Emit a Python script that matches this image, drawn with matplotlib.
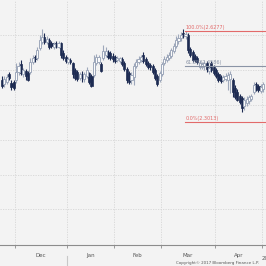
import matplotlib
matplotlib.use("Agg")
import matplotlib.pyplot as plt
import numpy as np

# daily OHLC (yield), one candle per trading day, late Nov 2016 .. end Apr 2017
opens = [2.452, 2.438, 2.445, 2.474, 2.441, 2.445, 2.452, 2.481, 2.509, 2.474,
         2.484, 2.477, 2.481, 2.517, 2.535, 2.531, 2.567, 2.588, 2.606, 2.588,
         2.596, 2.585, 2.570, 2.585, 2.570, 2.585, 2.549, 2.535, 2.517, 2.524,
         2.513, 2.488, 2.481, 2.459, 2.474, 2.456, 2.466, 2.477, 2.466, 2.470,
         2.513, 2.517, 2.509, 2.531, 2.542, 2.553, 2.549, 2.538, 2.535, 2.524,
         2.520, 2.527, 2.513, 2.492, 2.477, 2.452, 2.463, 2.502, 2.517, 2.524,
         2.542, 2.527, 2.513, 2.506, 2.502, 2.488, 2.466, 2.452, 2.474, 2.513,
         2.524, 2.531, 2.538, 2.556, 2.574, 2.592, 2.603, 2.621, 2.610, 2.613,
         2.563, 2.553, 2.538, 2.531, 2.499, 2.499, 2.502, 2.513, 2.484, 2.513,
         2.499, 2.488, 2.474, 2.463, 2.452, 2.456, 2.452, 2.456, 2.452, 2.423,
         2.409, 2.395, 2.387, 2.359, 2.370, 2.377, 2.384, 2.409, 2.438, 2.431,
         2.413, 2.420]
highs = [2.466, 2.466, 2.474, 2.481, 2.452, 2.452, 2.513, 2.517, 2.524, 2.495,
         2.492, 2.484, 2.531, 2.542, 2.542, 2.570, 2.613, 2.635, 2.621, 2.610,
         2.603, 2.592, 2.588, 2.592, 2.592, 2.588, 2.560, 2.542, 2.535, 2.531,
         2.517, 2.495, 2.488, 2.481, 2.484, 2.481, 2.499, 2.481, 2.474, 2.542,
         2.545, 2.542, 2.517, 2.578, 2.570, 2.560, 2.556, 2.549, 2.542, 2.538,
         2.535, 2.535, 2.520, 2.499, 2.484, 2.481, 2.513, 2.527, 2.538, 2.542,
         2.553, 2.535, 2.520, 2.513, 2.509, 2.495, 2.474, 2.484, 2.517, 2.538,
         2.545, 2.553, 2.567, 2.585, 2.610, 2.617, 2.624, 2.635, 2.628, 2.621,
         2.570, 2.560, 2.545, 2.538, 2.524, 2.517, 2.520, 2.520, 2.502, 2.520,
         2.506, 2.495, 2.481, 2.470, 2.470, 2.477, 2.481, 2.484, 2.459, 2.434,
         2.420, 2.402, 2.395, 2.391, 2.395, 2.398, 2.402, 2.445, 2.445, 2.438,
         2.438, 2.445]
lows = [2.423, 2.427, 2.438, 2.452, 2.416, 2.416, 2.441, 2.470, 2.470, 2.463,
        2.452, 2.448, 2.474, 2.509, 2.517, 2.524, 2.560, 2.581, 2.581, 2.581,
        2.563, 2.567, 2.563, 2.567, 2.567, 2.531, 2.524, 2.513, 2.509, 2.509,
        2.459, 2.452, 2.448, 2.452, 2.445, 2.445, 2.459, 2.438, 2.427, 2.463,
        2.506, 2.509, 2.481, 2.524, 2.535, 2.527, 2.524, 2.517, 2.513, 2.517,
        2.513, 2.502, 2.484, 2.441, 2.438, 2.438, 2.434, 2.495, 2.509, 2.517,
        2.513, 2.502, 2.492, 2.488, 2.474, 2.452, 2.431, 2.445, 2.466, 2.506,
        2.517, 2.524, 2.531, 2.549, 2.567, 2.581, 2.592, 2.603, 2.599, 2.549,
        2.535, 2.517, 2.517, 2.509, 2.492, 2.492, 2.488, 2.481, 2.474, 2.481,
        2.470, 2.459, 2.445, 2.441, 2.445, 2.448, 2.416, 2.405, 2.391, 2.384,
        2.377, 2.366, 2.337, 2.344, 2.359, 2.366, 2.377, 2.402, 2.413, 2.409,
        2.405, 2.409]
closes = [2.431, 2.456, 2.463, 2.459, 2.427, 2.423, 2.481, 2.502, 2.477, 2.488,
          2.466, 2.452, 2.517, 2.531, 2.527, 2.560, 2.596, 2.606, 2.588, 2.599,
          2.570, 2.574, 2.581, 2.574, 2.585, 2.542, 2.531, 2.520, 2.527, 2.517,
          2.474, 2.459, 2.456, 2.474, 2.459, 2.474, 2.488, 2.445, 2.431, 2.517,
          2.535, 2.535, 2.484, 2.556, 2.556, 2.535, 2.531, 2.527, 2.520, 2.531,
          2.531, 2.509, 2.492, 2.452, 2.445, 2.470, 2.502, 2.517, 2.527, 2.535,
          2.520, 2.509, 2.499, 2.499, 2.481, 2.459, 2.438, 2.477, 2.509, 2.527,
          2.535, 2.542, 2.560, 2.574, 2.596, 2.603, 2.613, 2.610, 2.617, 2.560,
          2.542, 2.524, 2.524, 2.517, 2.513, 2.509, 2.513, 2.492, 2.495, 2.488,
          2.477, 2.466, 2.452, 2.448, 2.463, 2.466, 2.470, 2.474, 2.409, 2.391,
          2.380, 2.373, 2.352, 2.380, 2.384, 2.391, 2.395, 2.434, 2.420, 2.416,
          2.427, 2.438]

# month boundaries / labels (trading-day index)
month_starts = [5.5, 27.5, 47.5, 67.5, 90.5, 110.5]
month_labels = ["Dec", "Jan", "Feb", "Mar", "Apr"]
month_centers = [16.5, 37.5, 57.5, 79.0, 100.5]
grid_levels = [2.6125, 2.4875, 2.3625, 2.2375, 2.1125, 1.9875]

# fibonacci retracement levels
fib_start = 77.6
fib_levels = [2.6277, 2.5022, 2.3013]
fib_labels = ["100.0%(2.6277)", "61.8%(2.4586)", "0.0%(2.3013)"]
fib_colors = ["#e26a6a", "#8a94a6", "#e26a6a"]

bg = "#f3f3f3"
dark = "#1d2b52"
light_edge = "#9ea8bb"

fig = plt.figure(figsize=(2.66, 2.66), dpi=100, facecolor=bg)
ax = fig.add_axes([0, 21 / 266, 1, 245 / 266], facecolor=bg)

x = np.arange(len(opens))
o = np.array(opens)
c = np.array(closes)
down = c < o

for xi, oi, hi, li, ci, d in zip(x, opens, highs, lows, closes, down):
    col = dark if d else light_edge
    ax.vlines(xi, li, hi, color=col, linewidth=0.8, zorder=3)
bottoms = np.minimum(o, c)
heights = np.maximum(np.abs(c - o), 0.003)
ax.bar(x[down], heights[down], bottom=bottoms[down], width=0.9,
       color=dark, edgecolor=dark, linewidth=0.5, zorder=4)
ax.bar(x[~down], heights[~down], bottom=bottoms[~down], width=0.9,
       color="#fbfbfb", edgecolor=light_edge, linewidth=0.7, zorder=4)

for lvl in grid_levels:
    ax.axhline(lvl, color="#d6d6d6", linestyle=(0, (1.5, 1.5)), linewidth=0.6, zorder=1)
for ms in month_starts:
    ax.axvline(ms, color="#d6d6d6", linestyle=(0, (1.5, 1.5)), linewidth=0.6, zorder=1)

xmax = 112.2
for lvl, lab, col in zip(fib_levels, fib_labels, fib_colors):
    ax.plot([fib_start, xmax], [lvl, lvl], color=col, linewidth=0.8, zorder=5)
    ax.text(fib_start + 0.3, lvl + 0.004, lab, color=col, fontsize=3.5,
            ha="left", va="bottom", zorder=6)

ax.set_xlim(-0.88, xmax)
ax.set_ylim(1.860, 2.739)
for s in ["top", "right", "left"]:
    ax.spines[s].set_visible(False)
ax.spines["bottom"].set_color("#8c8c8c")
ax.spines["bottom"].set_linewidth(0.8)
ax.set_yticks([])
ax.set_xticks(month_starts)
ax.set_xticklabels([])
ax.tick_params(axis="x", length=2, width=0.6, color="#8c8c8c")
ax.set_xticks(month_centers, minor=True)
ax.set_xticklabels(month_labels, minor=True)
ax.tick_params(axis="x", which="minor", length=0, labelsize=4, labelcolor="#555555", pad=6)

# year separator and cut-off text
ax.plot([27.5, 27.5], [-0.045, -0.08], transform=ax.get_xaxis_transform(),
        color="#c8c8c8", linewidth=0.8, clip_on=False)
fig.text(262 / 266, 1 - 258 / 266, "20", fontsize=4, color="#555555", ha="left", va="center")
fig.text(176 / 266, 1 - 263 / 266, "Copyright\u00a9 2017 Bloomberg Finance L.P.",
         fontsize=2.9, color="#555555", ha="left", va="center")

fig.savefig("out.png", dpi=100, facecolor=bg)
